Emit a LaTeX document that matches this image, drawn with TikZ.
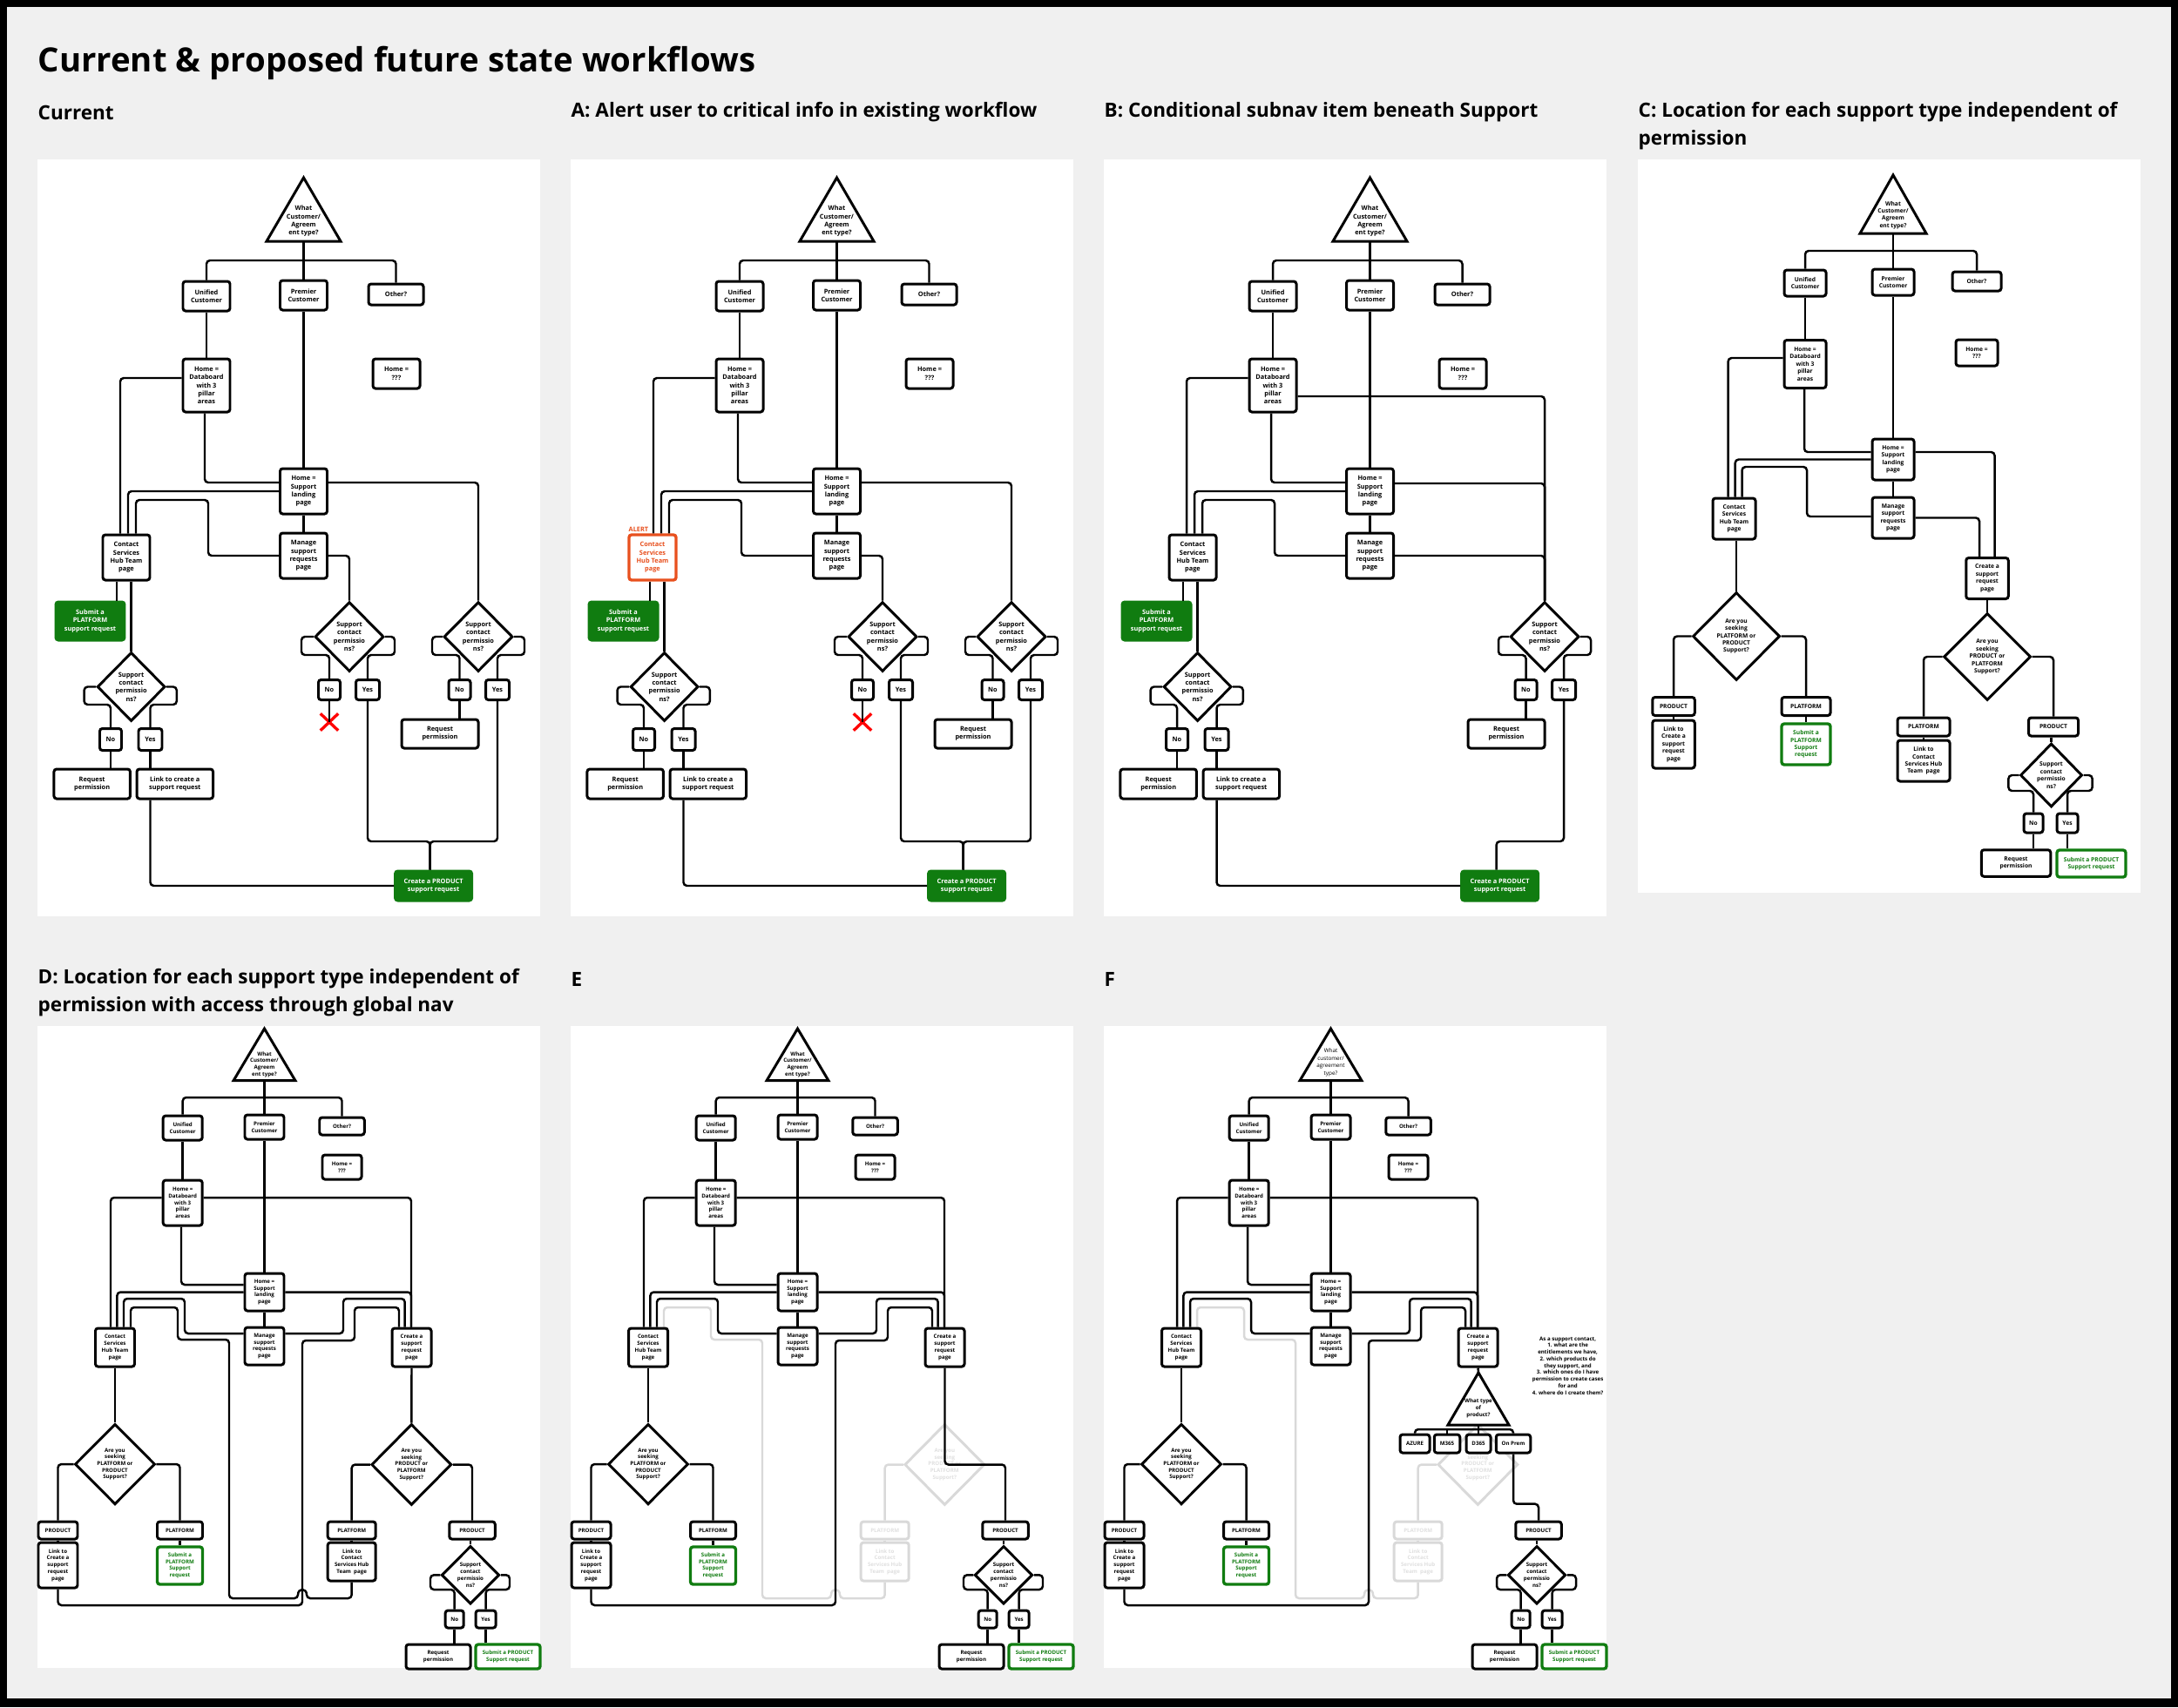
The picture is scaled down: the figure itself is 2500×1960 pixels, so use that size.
\documentclass[tikz,border=0pt]{standalone}
\usepackage{fontspec}
\setmainfont{Open Sans}
\usetikzlibrary{shapes.geometric,shapes.misc}
\pgfdeclarelayer{paper}
\pgfdeclarelayer{greylayer}
\pgfsetlayers{paper,greylayer,main}
\newlength\unitpx
\setlength\unitpx{0.01cm}
\definecolor{msgreen}{HTML}{107C10}
\definecolor{alertor}{HTML}{E8501E}
\definecolor{greyln}{HTML}{D9D9D9}
\definecolor{greytx}{HTML}{E0E0E0}
\definecolor{bgc}{HTML}{F0F0F0}
\newcommand\pf{}
\newcommand\fCAB{\fontsize{2.1}{2.65}\selectfont\bfseries}
\newcommand\fCC{\fontsize{1.9}{2.4}\selectfont\bfseries}
\newcommand\fDEF{\fontsize{1.75}{2.2}\selectfont\bfseries}
\newcommand\fNote{\fontsize{1.75}{2.21}\selectfont\bfseries}
\newcommand\fTri{\fontsize{1.8}{2.46}\selectfont}
\newcommand\fT{\fontsize{6.4}{9.07}\selectfont\bfseries}
\newcommand\fTitle{\fontsize{10.9}{13}\selectfont\bfseries}
\tikzset{
 sz/.style 2 args={minimum width=#1\unitpx, minimum height=#2\unitpx},
 bx/.style={draw, line width=0.85pt, rounded corners=3\unitpx, fill=white, inner sep=0pt, align=center, font=\pf},
 gfill/.style={bx, fill=msgreen, draw=msgreen, text=white},
 gline/.style={bx, draw=msgreen, text=msgreen, line width=0.95pt},
 orng/.style={bx, draw=alertor, text=alertor, line width=0.95pt},
 gbx/.style={bx, draw=greyln, text=greytx},
 dia/.style={diamond, draw, line width=0.85pt, fill=white, inner sep=0pt, align=center, font=\pf},
 gdia/.style={dia, draw=greyln, text=greytx},
 ln/.style={draw=black, line width=0.7pt, rounded corners=4\unitpx},
 gln/.style={ln, draw=greyln},
 ttl/.style={anchor=west, inner sep=0pt, align=left, font=\fT},
 trist/.style={line width=0.85pt, fill=white},
}
% ---------- Current / A / B shared part ----------
\newcommand\topCAB[2]{%
 \draw[trist] (305.5,21) -- (348,94) -- (263,94) -- cycle;
 \node[font=\pf, align=center, inner sep=0pt] (tri) at (305.5,71) {What\\Customer/\\Agreem\\ent type?};
 \coordinate (trib) at (305.5,94);
 \node[bx, sz={54}{34}] (uni) at (194,157) {Unified\\Customer};
 \node[bx, sz={54}{34}] (pre) at (305.5,156) {Premier\\Customer};
 \node[bx, sz={63}{24}] (oth) at (411.5,155) {Other?};
 \node[bx, sz={54}{61}] (db) at (194,259.5) {Home =\\Databoard\\with 3\\pillar\\areas};
 \node[bx, sz={54}{34}] (hq) at (412,246) {Home =\\???};
 \node[bx, sz={54}{52}] (sup) at (305.5,381) {Home =\\Support\\landing\\page};
 \node[bx, sz={54}{52}] (man) at (305.5,455) {Manage\\support\\requests\\page};
 \node[#1, sz={54}{52}] (con) at (#2,457) {Contact\\Services\\Hub Team\\page};
 \node[gfill, sz={79}{44}] (spf) at (60.5,530) {Submit a\\PLATFORM\\support request};
 \node[dia, sz={78}{79}] (ld) at (107.6,605.5) {Support\\contact\\permissio\\ns?};
 \node[bx, sz={25}{25}] (lno) at (84,666) {No};
 \node[bx, sz={27}{25}] (lyes) at (129.5,666) {Yes};
 \node[bx, sz={87.5}{34}] (lrp) at (62.7,717) {Request\\permission};
 \node[bx, sz={87.5}{34}] (lnk) at (157.8,717) {Link to create a\\support request};
 \node[gfill, sz={88}{34}] (cpr) at (454.6,834) {Create a PRODUCT\\support request};
 \draw[ln] (trib) -- (pre.north);
 \draw[ln] (uni.north) |- (305.5,116) -| (oth.north);
 \draw[ln] (uni.south) -- (db.north);
 \draw[ln] (pre.south) -- (sup.north);
 \draw[ln] (sup.south) -- (man.north);
 \draw[ln] (db.west |- 0,251) -| (con.north -| 95,0);
 \draw[ln] (db.south -| 192,0) |- (sup.west |- 0,371);
 \draw[ln] (sup.west) -| (con.north -| 104,0);
 \draw[ln] (man.west) -| (196,391) -| (con.north -| 113,0);
 \draw[ln] (con.south -| 91,0) -- (spf.north -| 91,0);
 \draw[ln] (con.south -| 107.6,0) -- (ld.north);
 \draw[ln] (ld.west) -| (53.6,626) -| (lno.north);
 \draw[ln] (ld.east) -| (159.8,626) -| (lyes.north);
 \draw[ln] (lno.south) -- (lrp.north -| lno.south);
 \draw[ln] (lyes.south) -- (lnk.north -| lyes.south);
 \draw[ln] (lnk.south -| lyes.south) |- (cpr.west);
}
\newcommand\rightdia{%
 \node[dia, sz={79}{80}] (rd) at (506,548) {Support\\contact\\permissio\\ns?};
 \node[bx, sz={25}{23}] (rno) at (484.5,609) {No};
 \node[bx, sz={27}{23}] (ryes) at (528,609) {Yes};
 \node[bx, sz={88}{33}] (rrp) at (462,659.5) {Request\\permission};
 \draw[ln] (rd.west) -| (453,569) -| (rno.north);
 \draw[ln] (rd.east) -| (559,569) -| (ryes.north);
 \draw[ln] (rno.south) -- (rrp.north -| rno.south);
 \draw[ln] (ryes.south) |- (450.6,783) -- (cpr.north -| 450.6,0);
}
\newcommand\midCA{%
 \node[dia, sz={79}{80}] (md) at (358,548) {Support\\contact\\permissio\\ns?};
 \node[bx, sz={25}{23}] (mno) at (335,609) {No};
 \node[bx, sz={27}{23}] (myes) at (379,609) {Yes};
 \node[draw=red, cross out, line width=0.95pt, inner sep=0pt, sz={17}{16}] (xm) at (335,646) {};
 \draw[ln] (man.east) -| (md.north);
 \draw[ln] (md.west) -| (303,569) -| (mno.north);
 \draw[ln] (md.east) -| (410,569) -| (myes.north);
 \draw[ln] (mno.south) -- (xm.center);
 \draw[ln] (myes.south) |- (450.6,783) -- (cpr.north -| 450.6,0);
 \draw[ln] (sup.east |- 0,371) -| (rd.north);
}
% ---------- D / E / F shared part ----------
\newcommand\topDEF[3]{%
 \draw[trist] (260.5,3) -- (296,62.7) -- (225,62.7) -- cycle;
 \node[font=#2, align=center, inner sep=0pt] (tri) at (260.5,#3) {#1};
 \coordinate (trib) at (260.5,62.7);
 \node[bx, sz={45}{28}] (uni) at (166.7,117) {Unified\\Customer};
 \node[bx, sz={45}{28}] (pre) at (260.5,116) {Premier\\Customer};
 \node[bx, sz={51.5}{20}] (oth) at (349.5,115) {Other?};
 \node[bx, sz={45}{28}] (hq) at (349.5,162) {Home =\\???};
 \node[bx, sz={45}{52}] (db) at (166.7,203) {Home =\\Databoard\\with 3\\pillar\\areas};
 \node[bx, sz={45}{43}] (sup) at (260.5,305.5) {Home =\\Support\\landing\\page};
 \node[bx, sz={45}{43}] (man) at (260.5,367.5) {Manage\\support\\requests\\page};
 \node[bx, sz={45}{44}] (con) at (89,369) {Contact\\Services\\Hub Team\\page};
 \node[bx, sz={45}{44}] (cre) at (429.5,369) {Create a\\support\\request\\page};
 \node[dia, sz={92}{92.5}] (ld) at (89,503) {Are you\\seeking\\PLATFORM or\\PRODUCT\\Support?};
 \node[bx, sz={45}{20}] (lprod) at (23.5,579) {PRODUCT};
 \node[bx, sz={52}{20}] (lplat) at (163.5,579) {PLATFORM};
 \node[bx, sz={45}{52}] (llink) at (23.5,619) {Link to\\Create a\\support\\request\\page};
 \node[gline, sz={52}{43}] (lsub) at (163.5,619.5) {Submit a\\PLATFORM\\Support\\request};
 \node[bx, sz={52.5}{20}] (rprod) at (499,579) {PRODUCT};
 \node[dia, sz={66.5}{66.7}] (sd) at (497,630.3) {Support\\contact\\permissio\\ns?};
 \node[bx, sz={21}{20}] (sno) at (478.7,681) {No};
 \node[bx, sz={23}{20}] (syes) at (514.6,681) {Yes};
 \node[bx, sz={74}{28}] (srp) at (460,724) {Request\\permission};
 \node[gline, sz={74}{28}] (ssub) at (540,724) {Submit a PRODUCT\\Support request};
 \draw[ln] (trib) -- (pre.north);
 \draw[ln] (uni.north) |- (260.5,82) -| (oth.north);
 \draw[ln] (uni.south) -- (db.north);
 \draw[ln] (pre.south) -- (sup.north);
 \draw[ln] (sup.south) -- (man.north);
 \draw[ln] (db.west |- 0,197) -| (con.north -| 84,0);
 \draw[ln] (db.east |- 0,197) -| (cre.north -| 429,0);
 \draw[ln] (db.south -| 165,0) |- (sup.west |- 0,297);
 \draw[ln] (sup.west) -| (con.north -| 91.4,0);
 \draw[ln] (sup.east) -| (cre.north -| 429,0);
 \draw[ln] (man.west |- 0,353) -| (169,313) -| (con.north -| 99,0);
 \draw[ln] (man.east |- 0,353) -| (351,313) -| (cre.north -| 421.7,0);
 \draw[ln] (llink.south) |- (304,665) |- (364,361) |- (415,323) -- (cre.north -| 415,0);
 \draw[ln] (con.south) -- (ld.north);
 \draw[ln] (ld.west) -| (lprod.north);
 \draw[ln] (ld.east) -| (lplat.north);
 \draw[ln] (lprod.south) -- (llink.north);
 \draw[ln] (lplat.south) -- (lsub.north);
 \draw[ln] (rprod.south -| sd.north) -- (sd.north);
 \draw[ln] (sd.west) -| (451,647) -| (sno.north);
 \draw[ln] (sd.east) -| (542,647) -| (syes.north);
 \draw[ln] (sno.south) -- (srp.north -| sno.south);
 \draw[ln] (syes.south) -- (ssub.north -| syes.south);
}
\newcommand\hopLoop[1]{%
 \draw[#1] (rlink.south) |- (309,657) .. controls (309,645) and (299,645) .. (299,657) -| (220,360) -| (161,323) -| (con.north -| 107,0);
}
\newcommand\rdDEF[2]{%
 \node[#1, sz={92}{93}] (rd) at (429.3,503.5) {Are you\\seeking\\PRODUCT or\\PLATFORM\\Support?};
 \node[#2, sz={55}{20}] (rplat) at (360.7,579) {PLATFORM};
 \node[#2, sz={55}{44}] (rlink) at (360.7,615) {Link to\\Contact\\Services Hub\\Team~ page};
}
\begin{document}
\begin{tikzpicture}[x=0.01cm,y=-0.01cm]
\useasboundingbox (0,0) rectangle (2500,1960);
\begin{pgfonlayer}{paper}
\fill[black] (0,0) rectangle (2500,1960);
\fill[bgc] (8,8) rectangle (2492,1950);
\fill[white] (43,183) rectangle (620,1052);
\fill[white] (655,183) rectangle (1232,1052);
\fill[white] (1267,183) rectangle (1844,1052);
\fill[white] (1880,183) rectangle (2457,1025);
\fill[white] (43,1178) rectangle (620,1915);
\fill[white] (655,1178) rectangle (1232,1915);
\fill[white] (1267,1178) rectangle (1844,1915);
\end{pgfonlayer}
% titles
\node[anchor=west, inner sep=0pt, font=\fTitle] (title) at (43,72) {Current \& proposed future state workflows};
\node[ttl] (tcur) at (43,129) {Current};
\node[ttl] (ta) at (655,129) {A: Alert user to critical info in existing workflow};
\node[ttl] (tb) at (1267,129) {B: Conditional subnav item beneath Support};
\node[ttl] (tc) at (1880,145) {C: Location for each support type independent of\\permission};
\node[ttl] (td) at (43,1140) {D: Location for each support type independent of\\permission with access through global nav};
\node[ttl] (te) at (655,1124) {E};
\node[ttl] (tf) at (1267,1124) {F};
% ---------- Current ----------
\renewcommand\pf{\fCAB}
\begin{scope}[shift={(43,183)}, name prefix=cur-]
\topCAB{bx}{102}
\rightdia
\midCA
\end{scope}
% ---------- A ----------
\begin{scope}[shift={(655,183)}, name prefix=a-]
\topCAB{orng}{94}
\node[font=\pf, text=alertor, anchor=west, inner sep=0pt] (alert) at (66,425) {ALERT};
\rightdia
\midCA
\end{scope}
% ---------- B ----------
\begin{scope}[shift={(1267,183)}, name prefix=b-]
\topCAB{bx}{102}
\rightdia
\draw[ln] (db.east |- 0,272) -| (rd.north);
\draw[ln] (sup.east |- 0,372) -| (rd.north);
\draw[ln] (man.east) -| (rd.north);
\end{scope}
% ---------- C ----------
\renewcommand\pf{\fCC}
\begin{scope}[shift={(1880,183)}, name prefix=c-]
\draw[trist] (293,18) -- (331,85) -- (255,85) -- cycle;
\node[font=\pf, align=center, inner sep=0pt] (tri) at (293,64) {What\\Customer/\\Agreem\\ent type?};
\coordinate (trib) at (293,85);
\node[bx, sz={48}{30}] (uni) at (192,142) {Unified\\Customer};
\node[bx, sz={48}{30}] (pre) at (293,141) {Premier\\Customer};
\node[bx, sz={56}{22}] (oth) at (389,140) {Other?};
\node[bx, sz={48}{55}] (db) at (192,235) {Home =\\Databoard\\with 3\\pillar\\areas};
\node[bx, sz={48}{30}] (hq) at (389,222) {Home =\\???};
\node[bx, sz={48}{47}] (sup) at (293,344.5) {Home =\\Support\\landing\\page};
\node[bx, sz={48}{47}] (man) at (293,411.5) {Manage\\support\\requests\\page};
\node[bx, sz={49}{47}] (con) at (110.5,412.5) {Contact\\Services\\Hub Team\\page};
\node[bx, sz={48.5}{47}] (cre) at (401,481) {Create a\\support\\request\\page};
\node[dia, sz={100}{101}] (ld) at (113,547.5) {Are you\\seeking\\PLATFORM or\\PRODUCT\\Support?};
\node[bx, sz={48.5}{21}] (lprod) at (41,628) {PRODUCT};
\node[bx, sz={56}{21}] (lplat) at (193,628) {PLATFORM};
\node[bx, sz={48.5}{55}] (llink) at (41,671.5) {Link to\\Create a\\support\\request\\page};
\node[gline, sz={56}{47}] (lsub) at (193,671.5) {Submit a\\PLATFORM\\Support\\request};
\node[dia, sz={100}{100}] (rd) at (401,571) {Are you\\seeking\\PRODUCT or\\PLATFORM\\Support?};
\node[bx, sz={60}{21}] (rplat) at (328,651.5) {PLATFORM};
\node[bx, sz={60}{47}] (rlink) at (328,690.5) {Link to\\Contact\\Services Hub\\Team~ page};
\node[bx, sz={57}{21}] (rprod) at (477,651.5) {PRODUCT};
\node[dia, sz={71}{73}] (sd) at (474.5,707) {Support\\contact\\permissio\\ns?};
\node[bx, sz={22}{22}] (sno) at (454,762) {No};
\node[bx, sz={24}{22}] (syes) at (493,762) {Yes};
\node[bx, sz={79.5}{30.5}] (srp) at (434,808) {Request\\permission};
\node[gline, sz={79}{31}] (ssub) at (520.5,808.5) {Submit a PRODUCT\\Support request};
\draw[ln] (trib) -- (pre.north);
\draw[ln] (uni.north) |- (293,105) -| (oth.north);
\draw[ln] (uni.south) -- (db.north);
\draw[ln] (pre.south) -- (sup.north);
\draw[ln] (sup.south) -- (man.north);
\draw[ln] (db.west |- 0,228) -| (con.north -| 103.6,0);
\draw[ln] (db.south -| 191,0) |- (sup.west |- 0,336);
\draw[ln] (sup.west) -| (con.north -| 111.7,0);
\draw[ln] (man.west |- 0,410) -| (194,353) -| (con.north -| 119.5,0);
\draw[ln] (sup.east |- 0,336) -| (cre.north -| 409.5,0);
\draw[ln] (man.east) -| (cre.north -| 392,0);
\draw[ln] (con.south -| 113,0) -- (ld.north);
\draw[ln] (ld.west) -| (lprod.north);
\draw[ln] (ld.east) -| (lplat.north);
\draw[ln] (lprod.south) -- (llink.north);
\draw[ln] (lplat.south) -- (lsub.north);
\draw[ln] (cre.south) -- (rd.north);
\draw[ln] (rd.west) -| (rplat.north);
\draw[ln] (rd.east) -| (rprod.north);
\draw[ln] (rplat.south) -- (rlink.north);
\draw[ln] (rprod.south -| sd.north) -- (sd.north);
\draw[ln] (sd.west) -| (425.4,725) -| (sno.north);
\draw[ln] (sd.east) -| (521.6,725) -| (syes.north);
\draw[ln] (sno.south) -- (srp.north -| sno.south);
\draw[ln] (syes.south) -- (ssub.north -| syes.south);
\end{scope}
% ---------- D ----------
\renewcommand\pf{\fDEF}
\begin{scope}[shift={(43,1178)}, name prefix=d-]
\topDEF{What\\Customer/\\Agreem\\ent type?}{\pf}{44}
\rdDEF{dia}{bx}
\draw[ln] (cre.south) -- (rd.north);
\draw[ln] (rd.west) -| (rplat.north);
\draw[ln] (rd.east) -| (rprod.north);
\draw[ln] (rplat.south) -- (rlink.north);
\hopLoop{ln}
\end{scope}
% ---------- E ----------
\begin{scope}[shift={(655,1178)}, name prefix=e-]
\topDEF{What\\Customer/\\Agreem\\ent type?}{\pf}{44}
\begin{pgfonlayer}{greylayer}
\rdDEF{gdia}{gbx}
\draw[gln] (rd.west) -| (rplat.north);
\draw[gln] (rplat.south) -- (rlink.north);
\hopLoop{gln}
\end{pgfonlayer}
\draw[ln] (cre.south) |- (rd.center -| rprod.north) -- (rprod.north);
\end{scope}
% ---------- F ----------
\begin{scope}[shift={(1267,1178)}, name prefix=f-]
\topDEF{What\\customer/\\agreement\\type?}{\fTri}{42}
\begin{pgfonlayer}{greylayer}
\rdDEF{gdia}{gbx}
\draw[gln] (rd.west) -| (rplat.north);
\draw[gln] (rplat.south) -- (rlink.north);
\hopLoop{gln}
\end{pgfonlayer}
\draw[trist] (430,398) -- (465,458) -- (395,458) -- cycle;
\node[font=\pf, align=center, inner sep=0pt] (ptri) at (430,439) {What type\\of\\product?};
\coordinate (ptria) at (430,398);
\coordinate (ptrib) at (430,458);
\node[bx, sz={34}{21}] (az) at (357,479.5) {AZURE};
\node[bx, sz={29.5}{21}] (m365) at (394,479.5) {M365};
\node[bx, sz={28}{21}] (d365) at (430,479.5) {D365};
\node[bx, sz={39.5}{21}] (op) at (470,479.5) {On Prem};
\draw[ln] (cre.south) -- (ptria);
\draw[ln] (az.north) |- (ptrib |- 0,463) -| (op.north);
\draw[ln] (ptrib) -- (d365.north);
\draw[ln] (m365.north) -- (m365.north |- 0,463);
\draw[ln] (op.south) |- (rprod.north |- 0,548.7) -- (rprod.north);
\node[font=\fNote, align=center, inner sep=0pt] (note) at (532.6,390) {As a support contact,\\1. what are the\\entitlements we have,\\2. which products do\\they support, and\\3. which ones do I have\\permission to create cases\\for and\\4. where do I create them?};
\end{scope}
\end{tikzpicture}
\end{document}
